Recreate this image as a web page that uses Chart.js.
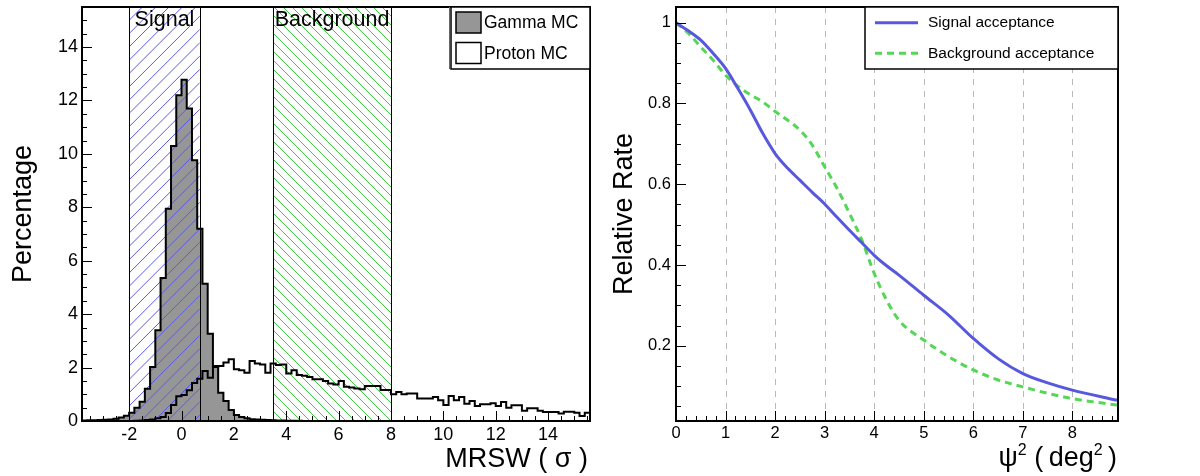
<!DOCTYPE html>
<html>
<head>
<meta charset="utf-8">
<script src="https://cdn.jsdelivr.net/npm/chart.js@4.4.0/dist/chart.umd.min.js"></script>
<style>
html, body { margin: 0; padding: 0; background: #fff; }
#wrap { position: relative; width: 1200px; height: 476px; }
.panel { position: absolute; top: 0; width: 600px; height: 476px; }
</style>
</head>
<body>
<div id="wrap">
  <div class="panel" style="left:0"><canvas id="left" width="600" height="476"></canvas></div>
  <div class="panel" style="left:600px"><canvas id="right" width="600" height="476"></canvas></div>
</div>
<script>
// left panel: MRSW distributions, percent per bin (bins of 0.2 starting at -4)
const binLow = -4.0;
const binWidth = 0.2;
const gammaMC = [
  0.02, 0.02, 0.03, 0.03, 0.04, 0.05, 0.06, 0.08, 0.13, 0.2,   // -4.0 .. -2.2
  0.31, 0.5, 0.72, 1.21, 2.02, 3.4, 5.35, 7.95, 10.3, 12.2,    // -2.0 .. -0.2
  12.78, 11.7, 9.76, 7.2, 5.14, 3.27, 2.06, 1.06, 0.75, 0.41,  // 0.0 .. 1.8
  0.22, 0.15, 0.1, 0.07, 0.06, 0.05, 0.04, 0.03, 0.02, 0.02,   // 2.0 .. 3.8
  0.01, 0.01, 0.01, 0                                          // 4.0 .. 4.6
];
const protonMC = [
  0, 0, 0, 0, 0, 0, 0, 0, 0, 0,                                // -4.0 .. -2.2
  0, 0.01, 0.02, 0.04, 0.06, 0.1, 0.15, 0.3, 0.6, 0.93,        // -2.0 .. -0.2
  0.97, 1.15, 1.42, 1.58, 1.87, 1.62, 2.02, 2.06, 2.19, 2.31,  // 0.0 .. 1.8
  1.94, 1.9, 1.81, 2.25, 2.15, 2.12, 1.81, 2.15, 2.1, 2.12,    // 2.0 .. 3.8
  1.78, 1.9, 1.72, 1.69, 1.65, 1.56, 1.56, 1.5, 1.4, 1.37,     // 4.0 .. 5.8
  1.5, 1.28, 1.25, 1.22, 1.19, 1.31, 1.31, 1.31, 1.16, 1.16,   // 6.0 .. 7.8
  1.0, 1.09, 1.0, 1.03, 1.03, 0.84, 0.84, 0.84, 0.9, 0.78,     // 8.0 .. 9.8
  0.6, 0.94, 0.78, 0.9, 0.65, 0.75, 0.56, 0.63, 0.63, 0.66,    // 10.0 .. 11.8
  0.56, 0.71, 0.5, 0.59, 0.59, 0.38, 0.48, 0.48, 0.38, 0.34,   // 12.0 .. 13.8
  0.34, 0.34, 0.28, 0.35, 0.35, 0.31, 0.19, 0.31, 0.3          // 14.0 .. 15.6
];
const mrswTicks = [-2, 0, 2, 4, 6, 8, 10, 12, 14];
const percentTicks = [0, 2, 4, 6, 8, 10, 12, 14];
const signalCut = [-2, 0.7];
const backgroundCut = [3.5, 8];

// right panel: acceptance vs psi^2
const psi2 = [0, 0.25, 0.5, 0.75, 1, 1.25, 1.5, 1.75, 2, 2.25, 2.5, 2.75, 3, 3.25, 3.5, 3.75, 4, 4.25, 4.5, 5, 5.5, 6, 6.5, 7, 7.5, 8, 8.9];
const signalAcc = [1, 0.98, 0.957, 0.924, 0.887, 0.837, 0.784, 0.726, 0.676, 0.64, 0.61, 0.58, 0.551, 0.518, 0.486, 0.455, 0.424, 0.398, 0.375, 0.325, 0.276, 0.218, 0.168, 0.131, 0.108, 0.09, 0.065];
const backgroundAcc = [1, 0.974, 0.94, 0.907, 0.87, 0.843, 0.822, 0.804, 0.78, 0.759, 0.734, 0.697, 0.643, 0.59, 0.528, 0.462, 0.379, 0.313, 0.263, 0.214, 0.173, 0.14, 0.115, 0.098, 0.082, 0.069, 0.053];
const psi2Ticks = [0, 1, 2, 3, 4, 5, 6, 7, 8];
const rateTicks = [0.2, 0.4, 0.6, 0.8, 1];
const rateTickLabels = ['0.2', '0.4', '0.6', '0.8', '1'];

const FONT = 'Liberation Sans, Arial, sans-serif';
Chart.defaults.font.family = FONT;
Chart.defaults.color = '#000';

function histPoints(values) {
  // one point per bin low edge, plus the last high edge (stepped line)
  const pts = values.map((v, i) => ({ x: binLow + i * binWidth, y: v }));
  pts.push({ x: binLow + values.length * binWidth, y: values[values.length - 1] });
  return pts;
}

function setTicks(list) {
  return function (scale) { scale.ticks = list.map(v => ({ value: v })); };
}

// fixed axis box size, no extra label overhang padding
function fixX(h) {
  return function (s) { s.height = h; s.paddingLeft = 0; s.paddingRight = 0; };
}
function fixY(w) {
  return function (s) { s.width = w; s.paddingTop = 0; s.paddingBottom = 0; };
}

function drawFrameAndTicks(chart, xMajor, xSub, yMajor, ySub) {
  const { ctx, chartArea: a, scales: { x, y } } = chart;
  ctx.save();
  ctx.strokeStyle = '#000';
  ctx.lineWidth = 1;
  ctx.beginPath();
  let step = (xMajor[1] - xMajor[0]) / xSub;
  let i0 = Math.ceil((x.min - xMajor[0]) / step - 1e-6);
  let i1 = Math.floor((x.max - xMajor[0]) / step + 1e-6);
  for (let i = i0; i <= i1; i++) {
    const px = Math.round(x.getPixelForValue(xMajor[0] + i * step)) + 0.5;
    const len = (i % xSub === 0) ? 10 : 5;
    ctx.moveTo(px, a.bottom);
    ctx.lineTo(px, a.bottom - len);
  }
  step = (yMajor[1] - yMajor[0]) / ySub;
  i0 = Math.ceil((y.min - yMajor[0]) / step - 1e-6);
  i1 = Math.floor((y.max - yMajor[0]) / step + 1e-6);
  for (let i = i0; i <= i1; i++) {
    const py = Math.round(y.getPixelForValue(yMajor[0] + i * step)) + 0.5;
    const len = (i % ySub === 0) ? 10 : 5;
    ctx.moveTo(a.left, py);
    ctx.lineTo(a.left + len, py);
  }
  ctx.stroke();
  ctx.lineWidth = 2;
  ctx.strokeRect(a.left, a.top, a.right - a.left, a.bottom - a.top);
  ctx.restore();
}

function drawYTitle(ctx, text, x, y) {
  ctx.save();
  ctx.translate(x, y);
  ctx.rotate(-Math.PI / 2);
  ctx.font = '27px ' + FONT;
  ctx.fillStyle = '#000';
  ctx.textAlign = 'center';
  ctx.textBaseline = 'alphabetic';
  ctx.fillText(text, 0, 0);
  ctx.restore();
}

// pieces: [text, fontSize, rise]; drawn right-aligned ending at xRight
function drawRichRight(ctx, pieces, xRight, baseline) {
  ctx.save();
  ctx.fillStyle = '#000';
  ctx.textBaseline = 'alphabetic';
  ctx.textAlign = 'left';
  let total = 0;
  pieces.forEach(p => { ctx.font = p[1] + 'px ' + FONT; total += ctx.measureText(p[0]).width; });
  let x = xRight - total;
  pieces.forEach(p => {
    ctx.font = p[1] + 'px ' + FONT;
    ctx.fillText(p[0], x, baseline - p[2]);
    x += ctx.measureText(p[0]).width;
  });
  ctx.restore();
}

function hatch(ctx, x0, x1, top, bottom, spacing, dir, color) {
  ctx.save();
  ctx.beginPath();
  ctx.rect(x0, top, x1 - x0, bottom - top);
  ctx.clip();
  ctx.strokeStyle = color;
  ctx.lineWidth = 1;
  ctx.beginPath();
  if (dir === '/') {
    for (let c = top + x0; c <= bottom + x1 + spacing; c += spacing) {
      ctx.moveTo(x0, c - x0);
      ctx.lineTo(x1, c - x1);
    }
  } else {
    for (let c = top - x1; c <= bottom - x0 + spacing; c += spacing) {
      ctx.moveTo(x0, x0 + c);
      ctx.lineTo(x1, x1 + c);
    }
  }
  ctx.stroke();
  ctx.restore();
}

const mrswDecor = {
  id: 'mrswDecor',
  afterDatasetDraw(chart, args) {
    if (!chart.data.datasets[args.index].hatchAfter) return;
    const { ctx, chartArea: a, scales: { x } } = chart;
    const s0 = x.getPixelForValue(signalCut[0]), s1 = x.getPixelForValue(signalCut[1]);
    const b0 = x.getPixelForValue(backgroundCut[0]), b1 = x.getPixelForValue(backgroundCut[1]);
    hatch(ctx, s0, s1, a.top, a.bottom, 13.3, '/', 'rgb(90,90,235)');
    hatch(ctx, b0, b1, a.top, a.bottom, 9, '\\', 'rgb(60,205,60)');
    ctx.save();
    ctx.strokeStyle = '#000';
    ctx.lineWidth = 1;
    ctx.beginPath();
    [s0, s1, b0, b1].forEach(px => {
      const p = Math.round(px) + 0.5;
      ctx.moveTo(p, a.top);
      ctx.lineTo(p, a.bottom);
    });
    ctx.stroke();
    ctx.restore();
  },
  afterDraw(chart) {
    const { ctx, chartArea: a, scales: { x } } = chart;
    drawFrameAndTicks(chart, mrswTicks, 4, percentTicks, 4);
    ctx.save();
    ctx.fillStyle = '#000';
    ctx.font = '21.5px ' + FONT;
    ctx.textAlign = 'center';
    ctx.textBaseline = 'alphabetic';
    ctx.fillText('Signal', (x.getPixelForValue(signalCut[0]) + x.getPixelForValue(signalCut[1])) / 2, 25.5);
    ctx.fillText('Background', (x.getPixelForValue(backgroundCut[0]) + x.getPixelForValue(backgroundCut[1])) / 2, 25.5);
    // legend
    const ds = chart.data.datasets;
    const lx = 451, ly = a.top, lw = a.right - lx, lh = 62;
    ctx.fillStyle = '#fff';
    ctx.fillRect(lx, ly, lw, lh);
    ctx.strokeStyle = '#000';
    ctx.lineWidth = 1.5;
    ctx.strokeRect(lx, ly, lw, lh);
    ctx.beginPath();
    ctx.moveTo(lx - 1.5, ly);
    ctx.lineTo(lx - 1.5, ly + lh);
    ctx.strokeStyle = '#666';
    ctx.lineWidth = 1;
    ctx.stroke();
    const entries = ds.filter(d => d.legendEntry);
    entries.forEach((d, i) => {
      const cy = 22.5 + i * 30.5;
      ctx.fillStyle = d.legendFill;
      ctx.fillRect(456, cy - 10.5, 25, 21);
      ctx.strokeStyle = '#000';
      ctx.lineWidth = 1.5;
      ctx.strokeRect(456, cy - 10.5, 25, 21);
      ctx.fillStyle = '#000';
      ctx.font = '17.5px ' + FONT;
      ctx.textAlign = 'left';
      ctx.textBaseline = 'middle';
      ctx.fillText(d.label, 484, cy + 1);
    });
    ctx.restore();
    drawYTitle(ctx, 'Percentage', 31, (a.top + a.bottom) / 2);
    drawRichRight(ctx, [['MRSW ( σ )', 27, 0]], a.right - 2, 466.5);
  }
};

const accDecor = {
  id: 'accDecor',
  beforeDatasetsDraw(chart) {
    const { ctx, chartArea: a, scales: { x } } = chart;
    ctx.save();
    ctx.strokeStyle = 'rgb(185,185,185)';
    ctx.lineWidth = 1;
    ctx.setLineDash([6, 6]);
    ctx.beginPath();
    psi2Ticks.forEach(v => {
      if (v <= x.min) return;
      const p = Math.round(x.getPixelForValue(v)) + 0.5;
      ctx.moveTo(p, a.top);
      ctx.lineTo(p, a.bottom);
    });
    ctx.stroke();
    ctx.restore();
  },
  afterDraw(chart) {
    const { ctx, chartArea: a } = chart;
    drawFrameAndTicks(chart, psi2Ticks, 5, rateTicks, 4);
    ctx.save();
    const lx = 265, ly = a.top, lw = a.right - lx, lh = 62;
    ctx.fillStyle = '#fff';
    ctx.fillRect(lx, ly, lw, lh);
    ctx.strokeStyle = '#000';
    ctx.lineWidth = 1.5;
    ctx.strokeRect(lx, ly, lw, lh);
    chart.data.datasets.forEach((d, i) => {
      const cy = 22.7 + i * 30.6;
      ctx.strokeStyle = d.borderColor;
      ctx.lineWidth = d.borderWidth;
      ctx.setLineDash(d.borderDash || []);
      ctx.beginPath();
      ctx.moveTo(275, cy);
      ctx.lineTo(318, cy);
      ctx.stroke();
      ctx.setLineDash([]);
      ctx.fillStyle = '#000';
      ctx.font = '15.5px ' + FONT;
      ctx.textAlign = 'left';
      ctx.textBaseline = 'middle';
      ctx.fillText(d.label, 328, cy + 0.5);
    });
    ctx.restore();
    drawYTitle(ctx, 'Relative Rate', 31.5, (a.top + a.bottom) / 2);
    drawRichRight(ctx, [['ψ', 27, 0], ['2', 16, 11], [' (\u2009deg', 27, 0], ['2', 16, 11], ['\u2009)', 27, 0]], a.right - 1, 466);
  }
};

new Chart(document.getElementById('left'), {
  type: 'line',
  data: {
    datasets: [
      {
        label: 'Gamma MC', legendEntry: true, legendFill: 'rgb(150,150,150)', hatchAfter: true,
        data: histPoints(gammaMC), stepped: 'before', fill: 'origin',
        backgroundColor: 'rgb(150,150,150)', borderColor: 'rgba(0,0,0,0)', borderWidth: 0,
        pointRadius: 0, order: 3
      },
      {
        label: 'Gamma outline',
        data: histPoints(gammaMC), stepped: 'before', fill: false,
        borderColor: '#000', borderWidth: 2, pointRadius: 0, order: 2
      },
      {
        label: 'Proton MC', legendEntry: true, legendFill: '#fff',
        data: histPoints(protonMC), stepped: 'before', fill: false,
        borderColor: '#000', borderWidth: 2, pointRadius: 0, order: 1
      }
    ]
  },
  options: {
    responsive: false,
    animation: false,
    layout: { padding: { left: 0, right: 10, top: 7, bottom: 0 } },
    plugins: { legend: { display: false }, tooltip: { enabled: false } },
    scales: {
      x: {
        type: 'linear', min: -3.8, max: 15.6,
        afterBuildTicks: setTicks(mrswTicks),
        afterFit: fixX(55),
        grid: { display: false, drawTicks: false },
        border: { display: false },
        ticks: { font: { size: 18 }, padding: 3, maxRotation: 0, autoSkip: false }
      },
      y: {
        min: 0, max: 15.5,
        afterBuildTicks: setTicks(percentTicks),
        afterFit: fixY(82),
        grid: { display: false, drawTicks: false },
        border: { display: false },
        ticks: { font: { size: 18 }, padding: 4 }
      }
    }
  },
  plugins: [mrswDecor]
});

new Chart(document.getElementById('right'), {
  type: 'line',
  data: {
    datasets: [
      {
        label: 'Signal acceptance',
        data: psi2.map((v, i) => ({ x: v, y: signalAcc[i] })),
        borderColor: 'rgb(88,88,222)', borderWidth: 3,
        pointRadius: 0, cubicInterpolationMode: 'monotone', fill: false
      },
      {
        label: 'Background acceptance',
        data: psi2.map((v, i) => ({ x: v, y: backgroundAcc[i] })),
        borderColor: 'rgb(86,214,86)', borderWidth: 3, borderDash: [7, 5],
        pointRadius: 0, cubicInterpolationMode: 'monotone', fill: false
      }
    ]
  },
  options: {
    responsive: false,
    animation: false,
    layout: { padding: { left: 0, right: 82, top: 7, bottom: 0 } },
    plugins: { legend: { display: false }, tooltip: { enabled: false } },
    scales: {
      x: {
        type: 'linear', min: 0, max: 8.92,
        afterBuildTicks: setTicks(psi2Ticks),
        afterFit: fixX(55),
        grid: { display: false, drawTicks: false },
        border: { display: false },
        ticks: { font: { size: 16.5 }, padding: 3, maxRotation: 0, autoSkip: false }
      },
      y: {
        min: 0.0135, max: 1.039,
        afterBuildTicks: setTicks(rateTicks),
        afterFit: fixY(76),
        grid: { display: false, drawTicks: false },
        border: { display: false },
        ticks: {
          font: { size: 16.5 }, padding: 5,
          callback: v => rateTickLabels[rateTicks.indexOf(v)]
        }
      }
    }
  },
  plugins: [accDecor]
});
</script>
</body>
</html>
